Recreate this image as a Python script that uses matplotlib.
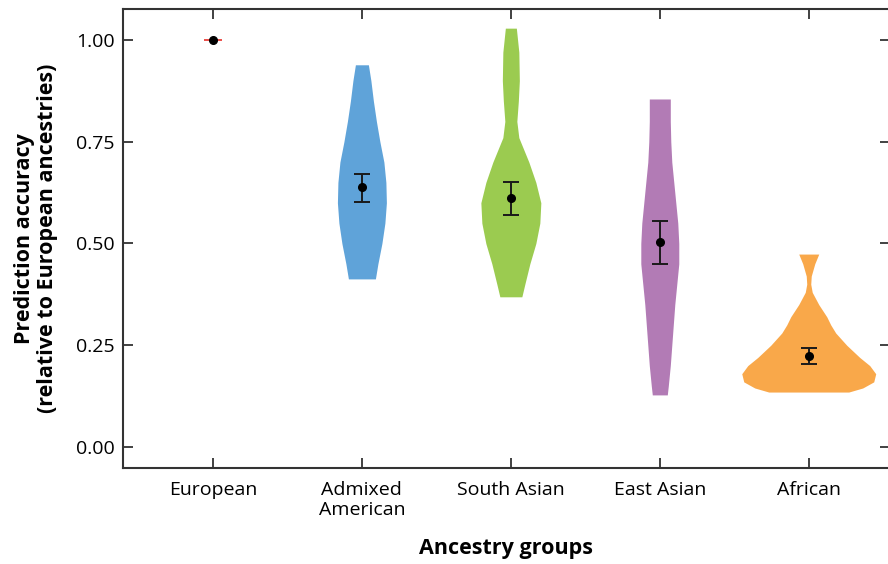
import numpy as np
import matplotlib.pyplot as plt

plt.rcParams['font.family'] = ['Open Sans', 'DejaVu Sans']

groups = ['European', 'Admixed\nAmerican', 'South Asian', 'East Asian', 'African']
colors = ['#e8302a', '#5fa3d9', '#9bcb50', '#b27bb5', '#f9a84a']

# mean accuracy and error bar limits
means = [1.00, 0.639, 0.612, 0.504, 0.224]
err_lo = [1.00, 0.602, 0.570, 0.450, 0.204]
err_hi = [1.00, 0.671, 0.651, 0.555, 0.243]

# violin outlines: accuracy levels and half-widths (density, px-ish units)
adm_y = [0.939, 0.90, 0.85, 0.80, 0.75, 0.70, 0.65, 0.60, 0.55, 0.50, 0.45, 0.413]
adm_w = [6.5, 9, 11.5, 14.5, 18, 22, 24, 24.5, 23, 20, 16, 13.5]

sas_y = [1.029, 0.97, 0.90, 0.85, 0.80, 0.76, 0.73, 0.70, 0.65, 0.60, 0.55, 0.50, 0.45, 0.40, 0.369]
sas_w = [5.5, 8, 8.5, 7.5, 6, 8, 13, 18, 25, 30, 29, 25, 19, 14, 11]

eas_y = [0.855, 0.80, 0.75, 0.70, 0.65, 0.60, 0.55, 0.50, 0.45, 0.40, 0.35, 0.30, 0.25, 0.20, 0.15, 0.128]
eas_w = [10.5, 10.5, 11, 12, 14, 16, 18, 19, 19, 17, 15, 13.5, 12, 10.5, 8.5, 7.5]

afr_y = [0.474, 0.45, 0.42, 0.40, 0.38, 0.35, 0.32, 0.30, 0.28, 0.25, 0.22, 0.20, 0.18, 0.16, 0.145, 0.135]
afr_w = [10, 6, 2.5, 2, 3.5, 10, 18, 22, 27, 38, 51, 61, 67, 65, 54, 40]

violins = [(1, adm_y, adm_w), (2, sas_y, sas_w), (3, eas_y, eas_w), (4, afr_y, afr_w)]
wscale = 1 / 149.0

fig = plt.figure(figsize=(8.88, 5.64), dpi=100)
ax = fig.add_axes([0.1385, 0.1702, 0.8635, 0.8138])

for i, vy, vw in violins:
    vy = np.array(vy)
    vw = np.array(vw) * wscale
    ax.fill_betweenx(vy, i - vw, i + vw, color=colors[i], lw=0, zorder=2)

# european: degenerate violin
ax.hlines(1.0, -0.06, 0.06, color=colors[0], lw=1.2, zorder=2)

x = np.arange(len(groups))
means = np.array(means)
yerr = [means - np.array(err_lo), np.array(err_hi) - means]
ax.errorbar(x[1:], means[1:], yerr=[yerr[0][1:], yerr[1][1:]], fmt='none',
            ecolor='#1a1a1a', elinewidth=1.4, capsize=5.5, capthick=1.4, zorder=3)
ax.plot(x, means, 'o', color='black', ms=5.5, zorder=4)

ax.set_xlim(-0.604, 4.544)
ax.set_ylim(-0.0516, 1.076)
ax.set_xticks(x)
ax.set_xticklabels(groups, fontsize=14, linespacing=1.15)
ax.set_yticks([0, 0.25, 0.5, 0.75, 1.0])
ax.set_yticklabels(['0.00', '0.25', '0.50', '0.75', '1.00'], fontsize=14)
ax.tick_params(axis='x', direction='in', length=7, width=1.3, color='#333333',
               top=True, pad=9)
ax.tick_params(axis='y', direction='in', length=7, width=1.3, color='#333333',
               right=True, pad=6)
for s in ax.spines.values():
    s.set_color('#333333')
    s.set_linewidth(1.5)

ax.set_xlabel('Ancestry groups', fontsize=15.5, fontweight='bold', labelpad=14)
ax.set_ylabel('Prediction accuracy\n(relative to European ancestries)',
              fontsize=15.5, fontweight='bold', labelpad=13, linespacing=1.1)

fig.savefig('out.png', dpi=100)
